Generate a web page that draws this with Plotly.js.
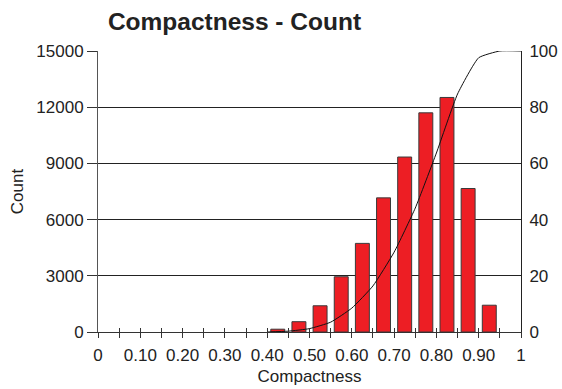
<!DOCTYPE html>
<html>
<head>
<meta charset="utf-8">
<script src="https://cdn.plot.ly/plotly-3.0.1.min.js"></script>
<style>html,body{margin:0;padding:0;background:#fff;}#chart{width:562px;height:389px;}</style>
</head>
<body>
<div id="chart"></div>
<script>
// Bin centres (Compactness) and counts
const binCenters = [0.425, 0.475, 0.525, 0.575, 0.625, 0.675, 0.725, 0.775, 0.825, 0.875, 0.925];
const counts     = [150, 550, 1400, 2950, 4730, 7160, 9340, 11700, 12520, 7660, 1430];

// Cumulative percentage line (right axis), read at bin edges
const cumX   = [0.40, 0.45, 0.50, 0.55, 0.60, 0.65, 0.70, 0.75, 0.80, 0.85, 0.90, 0.95, 1.00];
const cumPct = [0, 0.3, 1.2, 3.5, 8.5, 16.4, 28.4, 44.1, 63.7, 84.7, 97.6, 100, 100];

// X tick positions and labels
const xTickVals = [0, 0.05, 0.10, 0.15, 0.20, 0.25, 0.30, 0.35, 0.40, 0.45, 0.50, 0.55, 0.60, 0.65, 0.70, 0.75, 0.80, 0.85, 0.90, 0.95, 1.00];
const xTickText = ['0', '', '0.10', '', '0.20', '', '0.30', '', '0.40', '', '0.50', '', '0.60', '', '0.70', '', '0.80', '', '0.90', '', '1'];
const yTickVals = [0, 3000, 6000, 9000, 12000, 15000];
const y2TickVals = [0, 20, 40, 60, 80, 100];

const FONT = 'Liberation Sans, Arial, Helvetica, sans-serif';

const traces = [
  {
    type: 'bar', x: binCenters, y: counts, xaxis: 'x', yaxis: 'y',
    width: 0.033,
    marker: {color: 'rgb(237,30,36)', line: {color: '#3a3a3a', width: 1}},
    hoverinfo: 'x+y'
  },
  {
    type: 'scatter', mode: 'lines', x: cumX, y: cumPct, xaxis: 'x2', yaxis: 'y2',
    line: {color: '#111', width: 1, shape: 'spline', smoothing: 0.45},
    hoverinfo: 'x+y'
  }
];

const layout = {
  width: 562, height: 389,
  margin: {l: 98, r: 41, t: 51, b: 57, pad: 0},
  paper_bgcolor: '#fff', plot_bgcolor: '#fff',
  showlegend: false,
  font: {family: FONT, size: 17, color: '#222'},
  title: {
    text: '<b>Compactness - Count</b>',
    font: {family: FONT, size: 24.5, color: '#222'},
    x: 234.5 / 562, xref: 'container', xanchor: 'center',
    y: 1 - 21 / 389, yref: 'container', yanchor: 'middle'
  },
  xaxis: {
    range: [0, 1], tickmode: 'array', tickvals: xTickVals, ticktext: xTickText,
    ticks: 'outside', ticklen: 5, tickwidth: 1, tickcolor: '#333',
    ticklabelstandoff: 3,
    showline: true, linecolor: '#333', linewidth: 1,
    showgrid: false, zeroline: false,
    tickfont: {family: FONT, size: 17, color: '#222'},
    title: {text: 'Compactness', font: {family: FONT, size: 17, color: '#222'}, standoff: 5}
  },
  xaxis2: {
    range: [0, 1], overlaying: 'x', anchor: 'y2', side: 'bottom',
    tickmode: 'array', tickvals: xTickVals, showticklabels: false,
    ticks: 'inside', ticklen: 4, tickwidth: 1, tickcolor: '#333',
    showline: false, showgrid: false, zeroline: false
  },
  yaxis: {
    range: [0, 15000], tickmode: 'array', tickvals: yTickVals, tickformat: 'd',
    ticks: 'outside', ticklen: 10, tickwidth: 1, tickcolor: '#333',
    showline: true, linecolor: '#555', linewidth: 1,
    showgrid: true, gridcolor: '#222', gridwidth: 1, zeroline: false,
    tickfont: {family: FONT, size: 17, color: '#222'},
    title: {text: 'Count', font: {family: FONT, size: 17, color: '#222'}, standoff: 8}
  },
  yaxis2: {
    range: [0, 100], tickmode: 'array', tickvals: y2TickVals,
    overlaying: 'y', side: 'right', anchor: 'x2',
    ticks: 'outside', ticklen: 4, tickcolor: 'rgba(0,0,0,0)',
    showline: true, linecolor: '#222', linewidth: 1,
    showgrid: false, zeroline: false,
    tickfont: {family: FONT, size: 17, color: '#222'}
  }
};

Plotly.newPlot('chart', traces, layout, {displayModeBar: false, staticPlot: true});
</script>
</body>
</html>
